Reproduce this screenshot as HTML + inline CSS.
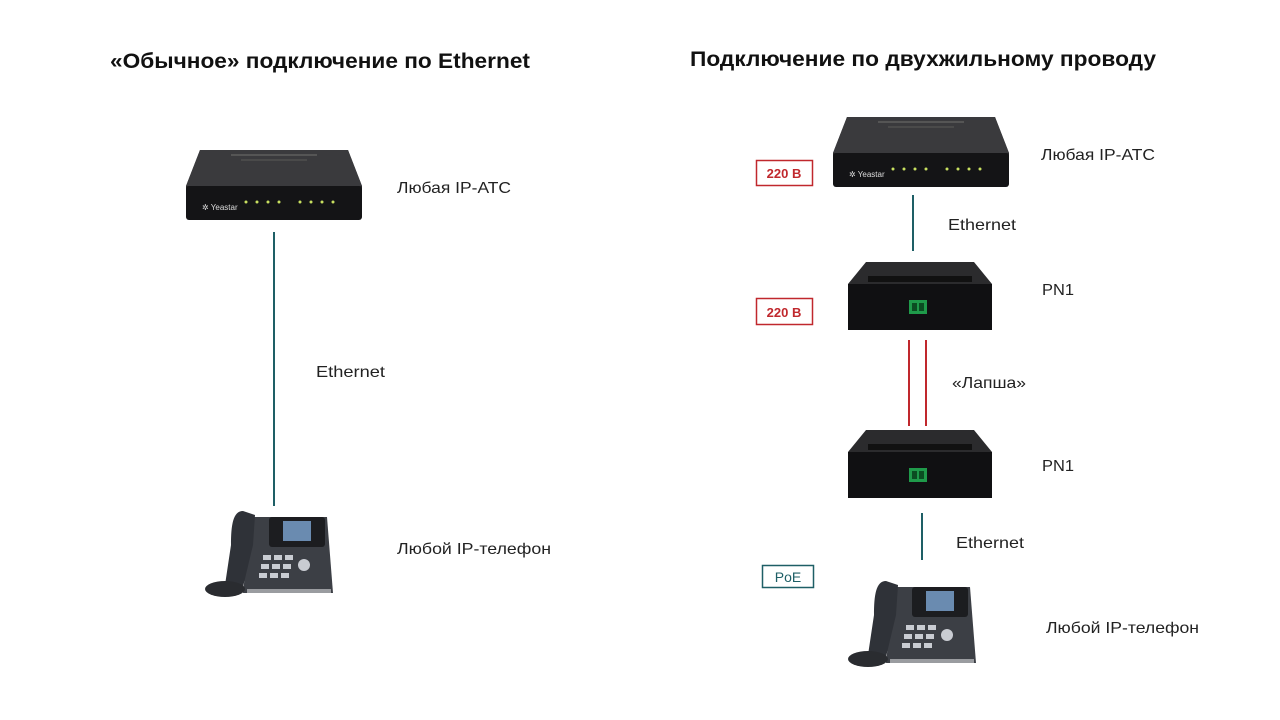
<!DOCTYPE html>
<html><head><meta charset="utf-8"><style>
html,body{margin:0;padding:0;background:#fff}
svg{display:block}
text{font-family:"Liberation Sans",sans-serif;fill:#222}
</style></head><body>
<svg width="1280" height="720" viewBox="0 0 1280 720">
<defs>
<g id="router">
  <path d="M14 0 H162 L176 36 V58 H0 V36 Z" fill="#2a2a2c"/>
  <path d="M14 0 H162 L176 36 H0 Z" fill="#3a3a3d"/>
  <rect x="45" y="4" width="86" height="2" fill="#555"/>
  <rect x="55" y="9" width="66" height="2" fill="#4a4a4a"/>
  <rect x="0" y="36" width="176" height="34" rx="3" fill="#141416"/>
  <text x="16" y="60" font-size="8" style="fill:#ddd">✲ Yeastar</text>
  <g fill="#c8e060">
    <circle cx="60" cy="52" r="1.5"/><circle cx="71" cy="52" r="1.5"/><circle cx="82" cy="52" r="1.5"/><circle cx="93" cy="52" r="1.5"/>
    <circle cx="114" cy="52" r="1.5"/><circle cx="125" cy="52" r="1.5"/><circle cx="136" cy="52" r="1.5"/><circle cx="147" cy="52" r="1.5"/>
  </g>
</g>
<g id="pn1">
  <path d="M18 0 H126 L144 22 H0 Z" fill="#2b2b2d"/>
  <rect x="20" y="14" width="104" height="6" fill="#111"/>
  <rect x="0" y="22" width="144" height="46" fill="#101012"/>
  <rect x="61" y="38" width="18" height="14" fill="#1f9a4a"/>
  <rect x="64" y="41" width="5" height="8" fill="#0b4d22"/>
  <rect x="71" y="41" width="5" height="8" fill="#0b4d22"/>
</g>
<g id="phone">
  <path d="M48 12 H124 L130 88 H40 Z" fill="#3c3f45"/>
  <rect x="66" y="12" width="56" height="30" rx="3" fill="#1c1d20"/>
  <rect x="80" y="16" width="28" height="20" fill="#6a8bb0"/>
  <path d="M40 6 C30 6 28 20 28 40 L22 80 L40 82 L50 40 L52 10 Z" fill="#2f3238"/>
  <ellipse cx="22" cy="84" rx="20" ry="8" fill="#2a2c30"/>
  <g fill="#c9ccd2">
    <rect x="60" y="50" width="8" height="5"/><rect x="71" y="50" width="8" height="5"/><rect x="82" y="50" width="8" height="5"/>
    <rect x="58" y="59" width="8" height="5"/><rect x="69" y="59" width="8" height="5"/><rect x="80" y="59" width="8" height="5"/>
    <rect x="56" y="68" width="8" height="5"/><rect x="67" y="68" width="8" height="5"/><rect x="78" y="68" width="8" height="5"/>
    <circle cx="101" cy="60" r="6"/>
  </g>
  <rect x="44" y="84" width="84" height="4" fill="#9a9ca0"/>
</g>
</defs>

<!-- Left -->
<text x="110" y="68" font-size="21" font-weight="bold" textLength="420" lengthAdjust="spacingAndGlyphs" style="fill:#111">«Обычное» подключение по Ethernet</text>
<use href="#router" x="186" y="150"/>
<text x="397" y="193" font-size="16" textLength="114" lengthAdjust="spacingAndGlyphs">Любая IP-АТС</text>
<line x1="274" y1="232" x2="274" y2="506" stroke="#1e5f66" stroke-width="2"/>
<text x="316" y="377" font-size="16" textLength="69" lengthAdjust="spacingAndGlyphs">Ethernet</text>
<use href="#phone" x="203" y="505"/>
<text x="397" y="554" font-size="16" textLength="154" lengthAdjust="spacingAndGlyphs">Любой IP-телефон</text>

<!-- Right -->
<text x="690" y="66" font-size="21" font-weight="bold" textLength="466" lengthAdjust="spacingAndGlyphs" style="fill:#111">Подключение по двухжильному проводу</text>
<use href="#router" x="833" y="117"/>
<text x="1041" y="160" font-size="16" textLength="114" lengthAdjust="spacingAndGlyphs">Любая IP-АТС</text>
<rect x="756.5" y="160.5" width="56" height="25" fill="#fff" stroke="#c0282d" stroke-width="1.5"/>
<text x="784" y="178" font-size="13" font-weight="bold" text-anchor="middle" style="fill:#c0282d">220 В</text>
<line x1="913" y1="195" x2="913" y2="251" stroke="#1e5f66" stroke-width="2"/>
<text x="948" y="230" font-size="16" textLength="68" lengthAdjust="spacingAndGlyphs">Ethernet</text>
<use href="#pn1" x="848" y="262"/>
<text x="1042" y="295" font-size="16" textLength="32" lengthAdjust="spacingAndGlyphs">PN1</text>
<rect x="756.5" y="298.5" width="56" height="26" fill="#fff" stroke="#c0282d" stroke-width="1.5"/>
<text x="784" y="317" font-size="13" font-weight="bold" text-anchor="middle" style="fill:#c0282d">220 В</text>
<line x1="909" y1="340" x2="909" y2="426" stroke="#c0282d" stroke-width="2"/>
<line x1="926" y1="340" x2="926" y2="426" stroke="#c0282d" stroke-width="2"/>
<text x="952" y="388" font-size="16" textLength="74" lengthAdjust="spacingAndGlyphs">«Лапша»</text>
<use href="#pn1" x="848" y="430"/>
<text x="1042" y="471" font-size="16" textLength="32" lengthAdjust="spacingAndGlyphs">PN1</text>
<line x1="922" y1="513" x2="922" y2="560" stroke="#1e5f66" stroke-width="2"/>
<text x="956" y="548" font-size="16" textLength="68" lengthAdjust="spacingAndGlyphs">Ethernet</text>
<rect x="762.5" y="565.5" width="51" height="22" fill="#fff" stroke="#1e5f66" stroke-width="1.5"/>
<text x="788" y="582" font-size="14" text-anchor="middle" style="fill:#1e5f66">PoE</text>
<use href="#phone" x="846" y="575"/>
<text x="1046" y="633" font-size="16" textLength="153" lengthAdjust="spacingAndGlyphs">Любой IP-телефон</text>
</svg>
</body></html>
